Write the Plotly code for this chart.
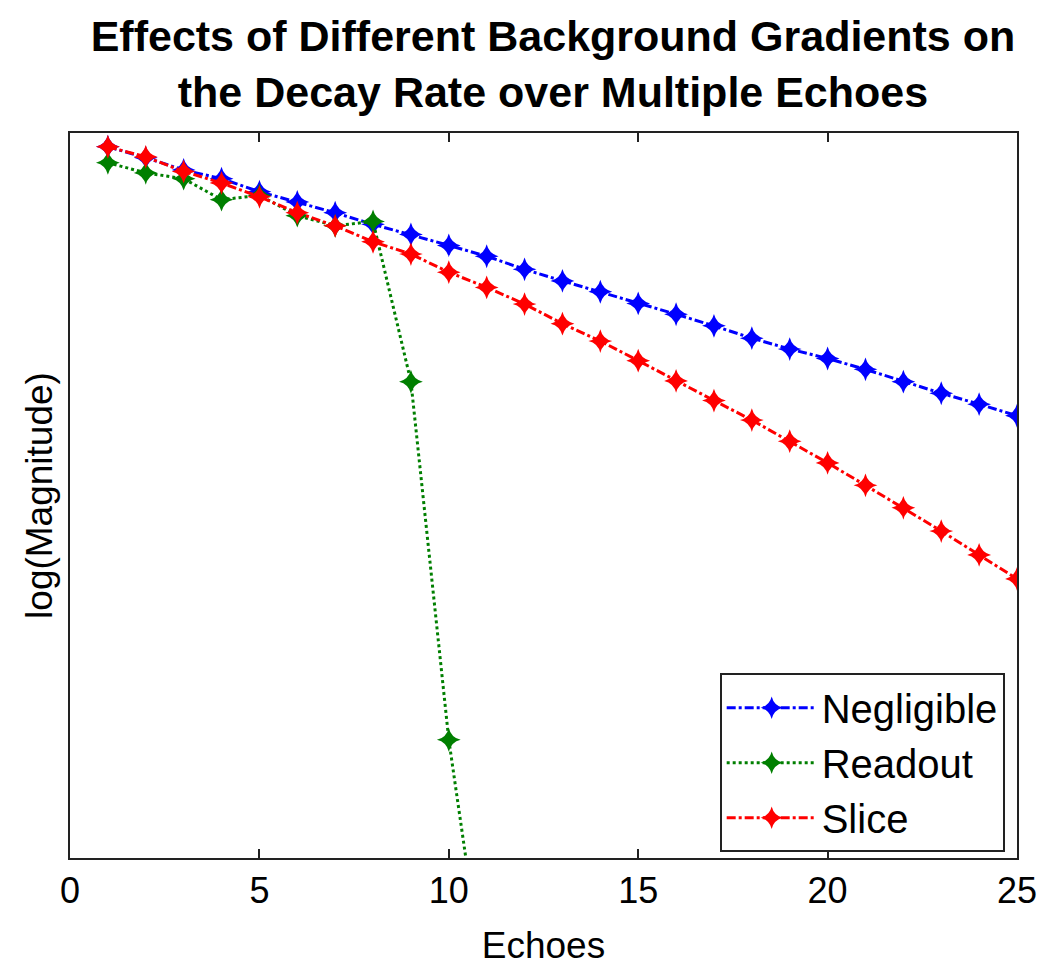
import plotly.graph_objects as go

echoes = list(range(1, 26))
negligible = [9.81, 9.66, 9.49, 9.37, 9.19, 9.05, 8.90, 8.74, 8.60, 8.45, 8.30, 8.12, 7.96,
              7.81, 7.65, 7.50, 7.34, 7.17, 7.02, 6.89, 6.74, 6.57, 6.41, 6.26, 6.10]
readout_x = list(range(1, 12))
readout = [9.59, 9.45, 9.37, 9.08, 9.14, 8.86, 8.72, 8.78, 6.57, 1.63, -1.99]
slice_ = [9.81, 9.67, 9.47, 9.31, 9.12, 8.90, 8.72, 8.50, 8.33, 8.08, 7.87, 7.64, 7.37,
          7.13, 6.86, 6.58, 6.31, 6.04, 5.75, 5.45, 5.14, 4.83, 4.51, 4.18, 3.85]
x_ticks = [0, 5, 10, 15, 20, 25]

FONT = "Liberation Sans, Arial, sans-serif"

fig = go.Figure()
series = [
    ("Negligible", echoes, negligible, "#0000ff", "dashdot"),
    ("Readout", readout_x, readout, "#007f00", "dot"),
    ("Slice", echoes, slice_, "#ff0000", "dashdot"),
]
for name, xs, ys, col, dash in series:
    fig.add_trace(go.Scatter(
        x=xs, y=ys, name=name, mode="lines+markers",
        line=dict(color=col, width=3, dash=dash),
        marker=dict(symbol="star-diamond", size=17, color=col),
        cliponaxis=True,
    ))

fig.update_layout(
    width=1042, height=963,
    paper_bgcolor="white", plot_bgcolor="white",
    margin=dict(l=62, r=33, t=125, b=109),
    title=dict(
        text="<b>Effects of Different Background Gradients on<br>the Decay Rate over Multiple Echoes</b>",
        x=0.523, xanchor="center", xref="container",
        y=0.955, yanchor="middle", yref="container",
        font=dict(family=FONT, size=43, color="black"),
    ),
    font=dict(family=FONT, color="black"),
    showlegend=True,
    legend=dict(
        x=0.987, xanchor="right", y=0.008, yanchor="bottom",
        bgcolor="white", bordercolor="#222", borderwidth=2,
        font=dict(family=FONT, size=40, color="black"),
        itemwidth=90,
    ),
)
fig.update_xaxes(
    range=[0, 25], tickvals=x_ticks, ticktext=[str(v) for v in x_ticks],
    showgrid=False, zeroline=False,
    showline=True, linecolor="#222", linewidth=2, mirror="ticks",
    ticks="inside", ticklen=9, tickcolor="#222", tickwidth=2,
    tickfont=dict(family=FONT, size=36, color="black"),
    title=dict(text="Echoes", font=dict(family=FONT, size=37, color="black"), standoff=22),
)
fig.update_yaxes(
    range=[0, 10], showticklabels=False, ticks="",
    showgrid=False, zeroline=False,
    showline=True, linecolor="#222", linewidth=2, mirror=True,
    title=dict(text="log(Magnitude)", font=dict(family=FONT, size=37, color="black"), standoff=4),
)

fig.write_html("out.html")
